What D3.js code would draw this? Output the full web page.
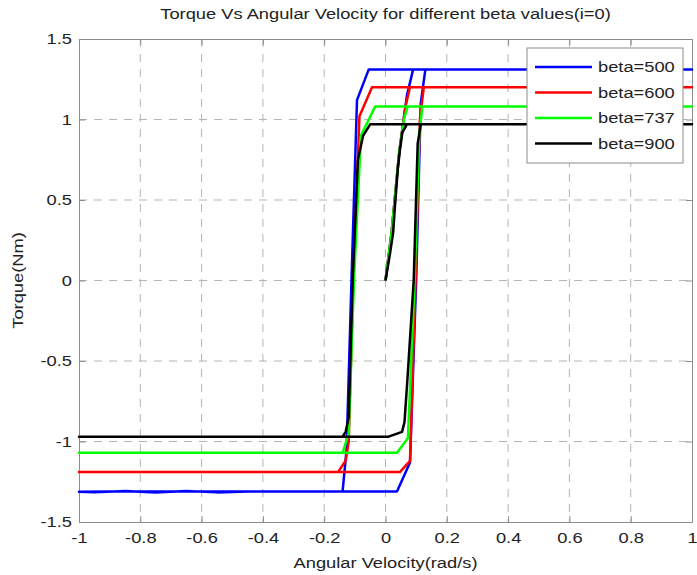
<!DOCTYPE html>
<html>
<head>
<meta charset="utf-8">
<script src="https://cdn.jsdelivr.net/npm/d3@7"></script>
<style>
  body { margin: 0; background: #fff; }
  svg text { font-family: "Liberation Sans", Arial, sans-serif; fill: #222; }
</style>
</head>
<body>
<div id="chart"></div>
<script>
// series names and colours
var seriesNames = ["beta=500", "beta=600", "beta=737", "beta=900"];
var seriesColors = ["#0000ff", "#ff0000", "#00ff00", "#000000"];

// each loop: start at rest, out to +1, back to -1, out to +1 again  [omega, torque]
var beta500 = [[0,0],[0.02,0.3],[0.045,0.8],[0.07,1.15],[0.09,1.31],[1,1.31],
  [-0.055,1.31],[-0.093,1.12],[-0.111,0],[-0.127,-1.05],[-0.14,-1.31],
  [-0.45,-1.31],[-0.55,-1.316],[-0.65,-1.307],[-0.75,-1.317],[-0.85,-1.308],[-0.95,-1.316],[-1,-1.312],
  [-0.9,-1.31],[0.0375,-1.31],[0.08,-1.13],[0.1,0],[0.115,1.1],[0.13,1.31],[1,1.31]];
var beta600 = [[0,0],[0.02,0.3],[0.045,0.8],[0.065,1.08],[0.08,1.2],[1,1.2],
  [-0.044,1.2],[-0.085,1.02],[-0.105,0],[-0.12,-1.0],[-0.13,-1.12],[-0.155,-1.19],
  [-1,-1.19],[0.047,-1.19],[0.08,-1.12],[0.098,0],[0.112,1.0],[0.125,1.2],[1,1.2]];
var beta737 = [[0,0],[0.02,0.3],[0.045,0.8],[0.06,1.0],[0.072,1.08],[1,1.08],
  [-0.034,1.08],[-0.08,0.9],[-0.103,0],[-0.12,-0.95],[-0.14,-1.07],
  [-1,-1.07],[0.0375,-1.07],[0.073,-0.98],[0.095,0],[0.11,0.9],[0.12,1.08],[1,1.08]];
var beta900 = [[0,0],[0.015,0.17],[0.025,0.3],[0.03,0.44],[0.04,0.69],[0.047,0.81],[0.055,0.92],[0.07,0.97],[1,0.97],
  [-0.05,0.97],[-0.073,0.9],[-0.09,0.75],[-0.107,0],[-0.12,-0.85],[-0.13,-0.94],[-0.14,-0.97],
  [-1,-0.97],[0.01,-0.97],[0.054,-0.94],[0.062,-0.88],[0.072,-0.6],[0.092,0],[0.105,0.85],[0.115,0.97],[1,0.97]];
var seriesData = [beta500, beta600, beta737, beta900];

var xTicks = [-1, -0.8, -0.6, -0.4, -0.2, 0, 0.2, 0.4, 0.6, 0.8, 1];
var yTicks = [-1.5, -1, -0.5, 0, 0.5, 1, 1.5];

var width = 697, height = 575;
var margin = {top: 39, right: 5, bottom: 53, left: 79};
var plotW = width - margin.left - margin.right;
var plotH = height - margin.top - margin.bottom;
var stretch = 1.22;   // the picture's text is wider than it is tall
var fontSize = "15px";

var svg = d3.select("#chart").append("svg")
    .attr("width", width)
    .attr("height", height);

var x = d3.scaleLinear().domain([-1, 1]).range([0, plotW]);
var y = d3.scaleLinear().domain([-1.5, 1.5]).range([plotH, 0]);

var g = svg.append("g").attr("transform", "translate(" + margin.left + "," + margin.top + ")");

// dashed grid
g.selectAll(".gx").data(xTicks.slice(1, -1)).enter().append("line")
    .attr("x1", function(d){ return x(d); }).attr("x2", function(d){ return x(d); })
    .attr("y1", 0).attr("y2", plotH)
    .attr("stroke", "#b4b4b4").attr("stroke-dasharray", "8,7");
g.selectAll(".gy").data(yTicks.slice(1, -1)).enter().append("line")
    .attr("y1", function(d){ return y(d); }).attr("y2", function(d){ return y(d); })
    .attr("x1", 0).attr("x2", plotW)
    .attr("stroke", "#b4b4b4").attr("stroke-dasharray", "8,7");

// axes (ticks pointing inward, on all four sides)
var fmt = function(d){ return String(d); };
var axB = g.append("g").attr("transform", "translate(0," + plotH + ")")
    .call(d3.axisBottom(x).tickValues(xTicks).tickFormat(fmt).tickSizeInner(-6).tickSizeOuter(0).tickPadding(10));
var axT = g.append("g")
    .call(d3.axisTop(x).tickValues(xTicks).tickFormat("").tickSizeInner(-6).tickSizeOuter(0));
var axL = g.append("g")
    .call(d3.axisLeft(y).tickValues(yTicks).tickFormat(fmt).tickSizeInner(-6).tickSizeOuter(0).tickPadding(7));
var axR = g.append("g").attr("transform", "translate(" + plotW + ",0)")
    .call(d3.axisRight(y).tickValues(yTicks).tickFormat("").tickSizeInner(-6).tickSizeOuter(0));
[axB, axT, axL, axR].forEach(function(a){
    a.selectAll("path, line").attr("stroke", "#8c8c8c");
    a.selectAll("text").style("font-size", fontSize).attr("fill", "#222")
        .style("font-family", "'Liberation Sans', Arial, sans-serif")
        .attr("x", function(){ return (+d3.select(this).attr("x") || 0) / stretch; })
        .attr("transform", "scale(" + stretch + ",1)");
});

// curves
var line = d3.line()
    .x(function(d){ return x(d[0]); })
    .y(function(d){ return y(d[1]); });

g.append("g").selectAll("path").data(seriesData).enter().append("path")
    .attr("d", line)
    .attr("fill", "none")
    .attr("stroke", function(d, i){ return seriesColors[i]; })
    .attr("stroke-width", 2.5)
    .attr("stroke-linejoin", "round");

// legend
var leg = g.append("g").attr("transform", "translate(" + (plotW - 165) + ",9)");
leg.append("rect")
    .attr("width", 156).attr("height", 115)
    .attr("fill", "#fff").attr("stroke", "#8c8c8c");
var items = leg.selectAll(".item").data(seriesNames).enter().append("g")
    .attr("transform", function(d, i){ return "translate(0," + (19 + i * 25.5) + ")"; });
items.append("line")
    .attr("x1", 8).attr("x2", 65).attr("y1", 0).attr("y2", 0)
    .attr("stroke", function(d, i){ return seriesColors[i]; })
    .attr("stroke-width", 2.5);
items.append("text")
    .attr("transform", "translate(71,5) scale(" + stretch + ",1)")
    .style("font-size", fontSize)
    .text(function(d){ return d; });

// title and axis labels
svg.append("text")
    .attr("transform", "translate(" + (margin.left + plotW / 2) + ",19) scale(" + stretch + ",1)")
    .attr("text-anchor", "middle")
    .style("font-size", fontSize)
    .text("Torque Vs Angular Velocity for different beta values(i=0)");

svg.append("text")
    .attr("transform", "translate(" + (margin.left + plotW / 2) + ",568) scale(" + stretch + ",1)")
    .attr("text-anchor", "middle")
    .style("font-size", fontSize)
    .text("Angular Velocity(rad/s)");

svg.append("text")
    .attr("transform", "translate(23," + (margin.top + plotH / 2) + ") rotate(-90) scale(" + stretch + ",1)")
    .attr("text-anchor", "middle")
    .style("font-size", fontSize)
    .text("Torque(Nm)");
</script>
</body>
</html>
